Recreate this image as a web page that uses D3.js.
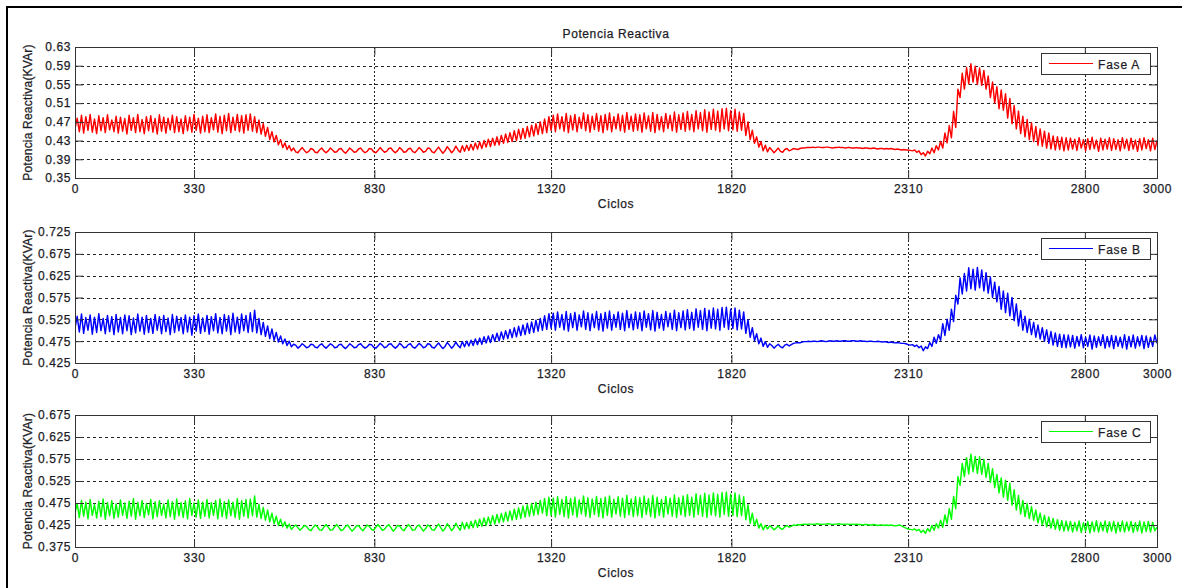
<!DOCTYPE html>
<html>
<head>
<meta charset="utf-8">
<script src="https://cdn.jsdelivr.net/npm/d3@7"></script>
<style>
  body { margin: 0; background: #fff; }
  svg { display: block; }
  text { font-family: "Liberation Sans", Arial, sans-serif; fill: #1c1c26; }
</style>
</head>
<body>
<svg id="fig" width="1182" height="588"></svg>
<script>
// Reactive power per phase, in VAr, one reading every CYCLE_STEP cycles (0 .. 3000).
const CYCLE_STEP = 6;

const faseA = [
  455,478,449,484,446,481,452,486,448,476,445,483,451,479,447,485,453,474,449,482,
  446,480,450,477,444,484,452,479,447,486,449,475,445,481,451,483,448,477,444,485,
  450,480,446,478,453,484,447,481,449,476,445,483,451,480,448,486,452,478,446,482,
  449,485,447,479,453,487,448,482,445,484,451,488,447,480,452,486,449,483,446,485,
  452,487,450,481,447,474,444,466,439,458,432,449,427,441,421,432,415,425,411,419,
  408,414,406,404,410,415,409,404,407,413,411,405,404,410,414,408,404,408,414,410,
  405,406,412,413,407,403,408,414,410,405,406,412,414,408,404,407,413,412,406,404,
  409,415,410,405,407,413,414,408,404,408,415,411,405,406,412,414,407,404,409,415,
  411,405,407,414,413,406,404,410,416,409,403,408,417,411,404,409,418,410,405,419,
  407,420,409,422,410,425,412,427,413,430,416,433,417,435,420,438,421,441,424,444,
  426,447,428,451,430,454,433,456,435,460,438,463,440,466,443,470,445,476,447,481,
  452,484,449,487,455,481,450,488,447,483,453,486,449,480,456,489,451,485,448,482,
  454,488,450,483,447,486,453,489,449,481,455,487,451,484,448,490,454,482,450,487,
  452,485,448,489,455,483,450,490,447,486,453,481,449,488,456,484,451,491,448,485,
  454,489,450,492,453,486,449,494,455,490,451,496,448,491,454,497,452,493,449,498,
  455,499,451,494,453,497,450,491,452,488,441,470,432,452,424,438,416,428,408,420,
  406,415,410,404,409,414,407,405,411,413,408,410,413,412,411,413,414,414,415,415,
  415,416,415,416,416,415,415,416,416,415,414,415,415,416,415,415,414,415,415,414,
  414,415,414,414,413,414,414,413,413,414,413,412,413,413,412,413,412,413,412,411,
  412,411,410,411,410,410,409,408,410,405,408,400,404,397,407,402,414,404,419,410,
  428,414,446,425,462,436,492,458,540,522,574,540,586,551,594,555,589,550,585,548,
  580,540,568,522,555,510,545,498,538,495,530,478,520,466,505,455,493,445,482,438,
  475,432,468,428,460,420,455,418,450,414,446,412,440,410,438,411,437,408,436,410,
  435,412,433,409,436,414,432,408,434,411,437,413,431,407,435,410,433,412,436,409,
  434,411,432,408,436,413,433,409,435,412,431,407,434,410,436,413,432,408,435,411,
  430
];

const faseB = [
  505,532,496,537,493,529,500,535,491,530,495,538,499,527,492,534,497,531,490,536,
  496,529,492,535,499,533,490,528,494,537,498,530,491,534,495,527,493,536,500,531,
  492,534,497,528,490,536,495,532,499,529,492,535,496,530,489,533,498,537,493,528,
  497,534,491,531,499,538,494,529,492,536,498,533,490,539,496,530,493,537,499,534,
  495,540,497,546,494,527,490,518,486,510,481,503,477,495,473,487,469,480,465,475,
  462,468,466,459,463,469,465,460,462,468,467,461,460,466,469,463,459,464,469,466,
  460,461,467,468,462,458,463,469,465,460,461,467,469,463,459,462,468,467,461,459,
  464,470,466,460,462,468,469,463,459,463,470,466,460,461,467,469,462,459,464,470,
  466,460,462,469,468,461,459,465,471,464,458,463,472,466,459,464,473,465,460,474,
  462,475,464,477,465,480,467,482,468,485,471,487,472,490,475,493,476,496,479,499,
  481,502,483,506,485,509,488,512,490,516,493,519,495,523,498,527,500,533,502,538,
  505,539,500,542,507,536,501,543,498,538,506,541,500,535,508,544,502,540,499,537,
  506,543,501,538,498,541,505,544,500,536,507,542,502,539,499,545,506,537,501,542,
  504,540,499,544,507,538,501,545,498,541,505,536,500,543,508,539,502,546,499,540,
  506,544,501,547,504,541,500,549,507,545,502,550,499,546,505,551,503,548,500,552,
  507,553,502,548,504,551,501,546,503,542,493,524,484,506,476,492,469,482,463,474,
  461,469,465,459,464,468,462,460,466,468,464,467,470,471,472,471,473,474,474,475,
  474,475,475,474,475,476,475,474,475,476,475,475,476,475,475,476,476,475,475,476,
  476,475,475,476,475,475,474,475,475,474,474,475,474,473,474,473,472,473,472,471,
  472,471,470,470,469,467,466,467,463,466,460,464,453,462,458,472,463,484,470,490,
  477,515,488,525,500,548,520,580,560,620,583,630,590,643,595,640,592,644,597,638,
  590,632,585,622,575,610,565,600,548,590,540,585,533,575,522,560,510,545,500,532,
  495,525,490,518,484,512,480,506,475,501,470,497,466,494,463,491,461,490,460,489,
  462,488,459,486,464,490,460,484,463,489,457,487,461,485,465,490,459,486,462,488,
  458,487,463,484,460,490,457,486,462,489,459,485,464,488,458,487,461,484,463,489,
  470
];

const faseC = [
  452,474,442,481,445,477,439,483,447,472,441,479,444,484,438,476,446,480,440,473,
  443,482,447,475,440,479,445,485,438,477,446,481,442,474,448,483,439,478,444,480,
  447,473,441,482,444,478,438,484,446,476,442,480,439,485,447,475,443,482,440,477,
  445,483,441,476,447,481,439,484,444,478,440,482,446,477,442,485,438,480,445,483,
  441,484,446,491,443,472,440,465,436,459,432,452,428,445,424,438,421,432,418,427,
  415,421,425,419,413,418,424,422,415,412,419,425,421,414,413,420,426,420,413,414,
  421,426,419,412,415,422,425,418,411,416,423,424,417,412,418,425,422,415,413,420,
  426,420,413,415,422,426,419,411,416,424,423,416,412,419,426,421,413,414,422,425,
  418,411,417,425,422,414,413,421,427,419,411,417,428,421,412,418,429,420,413,431,
  416,430,417,433,419,436,420,438,422,441,424,443,426,446,427,449,430,451,432,454,
  434,457,436,461,438,464,440,468,443,471,445,474,447,477,449,481,452,485,446,488,
  447,486,443,489,449,483,444,490,441,485,448,488,443,482,450,491,445,487,442,484,
  449,490,444,485,441,488,447,491,443,483,450,489,445,486,442,492,448,484,444,489,
  446,487,442,491,449,485,444,492,441,488,447,483,443,490,450,486,445,493,442,487,
  448,491,444,494,447,488,443,496,449,492,445,497,442,493,448,498,446,495,443,499,
  449,500,445,495,447,498,444,493,446,489,437,471,429,452,423,438,418,428,414,424,
  416,423,420,414,418,423,417,415,421,424,420,422,425,424,426,425,426,427,426,427,
  427,426,427,428,427,426,427,427,428,427,426,427,427,428,427,426,427,427,426,427,
  426,427,426,426,425,426,426,425,425,426,425,424,425,425,424,425,424,425,424,423,
  424,425,423,420,418,416,415,414,416,412,415,408,413,406,417,410,424,413,428,418,
  436,420,448,428,462,438,490,462,535,515,565,535,578,541,586,546,581,542,580,540,
  574,533,565,522,553,510,540,498,532,488,527,481,520,470,505,459,492,450,481,444,
  474,440,467,436,459,430,452,425,447,421,443,418,440,415,437,413,435,411,434,412,
  433,409,431,412,434,408,430,411,433,407,432,410,435,409,431,412,434,408,432,411,
  433,407,431,410,434,409,432,412,433,408,430,411,434,407,432,410,433,409,431,412,
  420
];

// Axis ticks
const xTicks  = [0, 330, 830, 1320, 1820, 2310, 2800, 3000];
const yTicksA = [0.35, 0.39, 0.43, 0.47, 0.51, 0.55, 0.59, 0.63];
const yTicksB = [0.425, 0.475, 0.525, 0.575, 0.625, 0.675, 0.725];
const yTicksC = [0.375, 0.425, 0.475, 0.525, 0.575, 0.625, 0.675];

const seriesNames = ["Fase A", "Fase B", "Fase C"];
const seriesColors = ["#ff0000", "#0000ff", "#00ff00"];

// Layout
const plotLeft = 75, plotRight = 1157;
const panelBoxes = [
  { top: 47,  bottom: 178 },
  { top: 232, bottom: 363 },
  { top: 415, bottom: 547 }
];
const panels = [
  { values: faseA, ticks: yTicksA, fmt: ".2f" },
  { values: faseB, ticks: yTicksB, fmt: ".3f" },
  { values: faseC, ticks: yTicksC, fmt: ".3f" }
];

const svg = d3.select("#fig");
const x = d3.scaleLinear().domain([0, 3000]).range([plotLeft, plotRight]);
const tickLen = 8;

const textStyle = (sel, spacing) => sel
  .style("font-size", "12px")
  .style("letter-spacing", spacing)
  .attr("stroke", "#1c1c26").attr("stroke-width", 0.25);

// Outer frame (top and left edges)
svg.append("path")
  .attr("d", "M7,588 V7 H1182")
  .attr("fill", "none").attr("stroke", "#000").attr("stroke-width", 2);

// Figure title
svg.append("text")
  .attr("x", (plotLeft + plotRight) / 2).attr("y", 38)
  .attr("text-anchor", "middle")
  .call(textStyle, "0.6px")
  .text("Potencia Reactiva");

panels.forEach((p, k) => {
  const box = panelBoxes[k];
  const y = d3.scaleLinear()
    .domain([p.ticks[0], p.ticks[p.ticks.length - 1]])
    .range([box.bottom, box.top]);
  const g = svg.append("g");

  // Dotted grid
  g.append("g").selectAll("line").data(p.ticks.slice(1, -1)).join("line")
    .attr("x1", plotLeft).attr("x2", plotRight)
    .attr("y1", d => Math.round(y(d)) + 0.5).attr("y2", d => Math.round(y(d)) + 0.5)
    .attr("stroke", "#222").attr("stroke-width", 1).attr("stroke-dasharray", "3,3");
  g.append("g").selectAll("line").data(xTicks.slice(1, -1)).join("line")
    .attr("x1", d => Math.round(x(d)) + 0.5).attr("x2", d => Math.round(x(d)) + 0.5)
    .attr("y1", box.top).attr("y2", box.bottom)
    .attr("stroke", "#222").attr("stroke-width", 1).attr("stroke-dasharray", "2,2");

  // Signal trace
  const clipId = "clip" + k;
  svg.append("clipPath").attr("id", clipId).append("rect")
    .attr("x", plotLeft).attr("y", box.top)
    .attr("width", plotRight - plotLeft).attr("height", box.bottom - box.top);
  const line = d3.line()
    .x((d, i) => x(i * CYCLE_STEP))
    .y(d => y(d / 1000));
  g.append("path")
    .datum(p.values)
    .attr("clip-path", `url(#${clipId})`)
    .attr("d", line)
    .attr("fill", "none")
    .attr("stroke", seriesColors[k])
    .attr("stroke-width", 1.45)
    .attr("stroke-linejoin", "round");

  // Axes with inward ticks
  const styleAxis = sel => {
    sel.select(".domain").remove();
    sel.selectAll(".tick line").attr("stroke", "#333");
    sel.selectAll("text").attr("fill", "#1c1c26")
      .style("font-family", '"Liberation Sans", Arial, sans-serif')
      .call(textStyle, "0.6px");
  };
  g.append("g").attr("transform", `translate(${plotLeft},0)`)
    .call(d3.axisLeft(y).tickValues(p.ticks).tickFormat(d3.format(p.fmt))
      .tickSize(-tickLen).tickPadding(4))
    .call(styleAxis);
  g.append("g").attr("transform", `translate(${plotRight},0)`)
    .call(d3.axisRight(y).tickValues(p.ticks).tickFormat("").tickSize(-tickLen))
    .call(styleAxis);
  g.append("g").attr("transform", `translate(0,${box.bottom})`)
    .call(d3.axisBottom(x).tickValues(xTicks).tickFormat(d3.format("d"))
      .tickSize(-tickLen).tickPadding(6))
    .call(styleAxis);
  g.append("g").attr("transform", `translate(0,${box.top})`)
    .call(d3.axisTop(x).tickValues(xTicks).tickFormat("").tickSize(-tickLen))
    .call(styleAxis);

  // Plot box
  g.append("rect")
    .attr("x", plotLeft + 0.5).attr("y", box.top + 0.5)
    .attr("width", plotRight - plotLeft).attr("height", box.bottom - box.top)
    .attr("fill", "none").attr("stroke", "#333").attr("stroke-width", 1);

  // Axis titles
  g.append("text")
    .attr("x", (plotLeft + plotRight) / 2).attr("y", box.bottom + 30)
    .attr("text-anchor", "middle")
    .call(textStyle, "0.6px")
    .text("Ciclos");
  g.append("text")
    .attr("transform", `translate(32,${(box.top + box.bottom) / 2}) rotate(-90)`)
    .attr("text-anchor", "middle")
    .call(textStyle, "0.2px")
    .text("Potencia Reactiva(KVAr)");

  // Legend
  const lg = g.append("g").attr("transform", `translate(1041,${box.top + 6})`);
  lg.append("rect").attr("x", 0.5).attr("y", 0.5).attr("width", 109).attr("height", 21)
    .attr("fill", "#fff").attr("stroke", "#333");
  lg.append("line").attr("x1", 8).attr("x2", 52).attr("y1", 10.5).attr("y2", 10.5)
    .attr("stroke", seriesColors[k]).attr("stroke-width", 1);
  lg.append("text").attr("x", 57).attr("y", 15.5)
    .call(textStyle, "0.8px")
    .text(seriesNames[k]);
});
</script>
</body>
</html>
